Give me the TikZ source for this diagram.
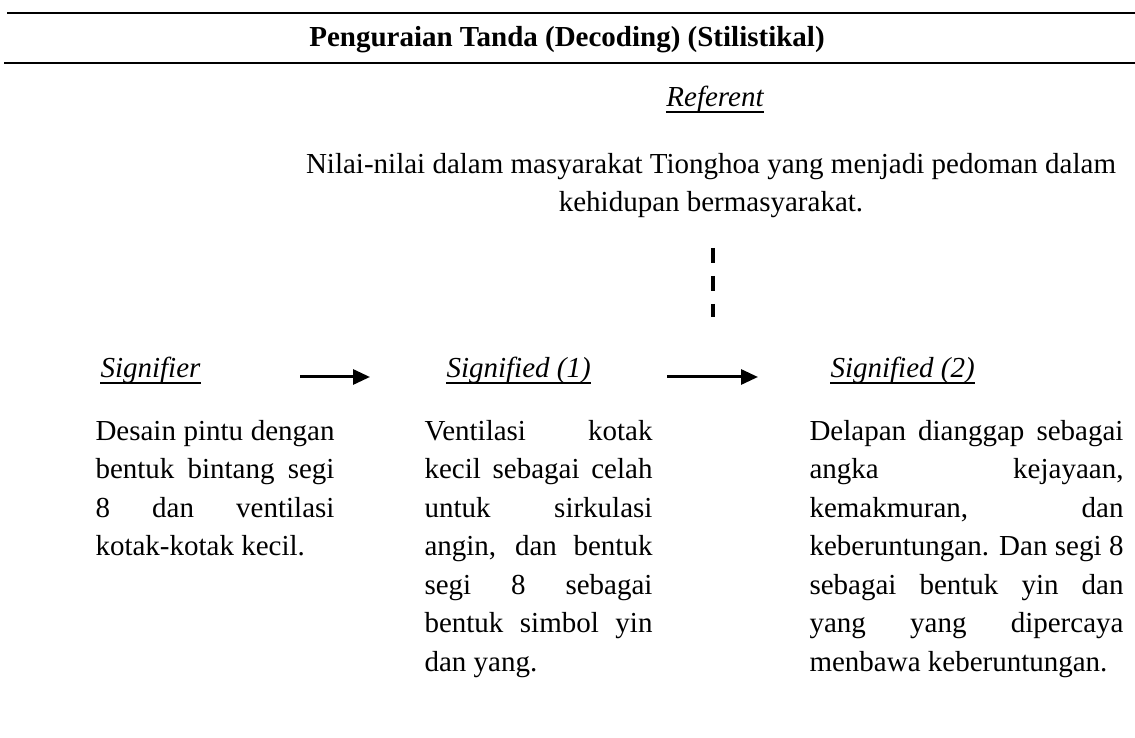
\documentclass[tikz,border=0pt]{standalone}
\usepackage{fontspec}
\setmainfont{Liberation Serif}
\usetikzlibrary{arrows.meta}
\tolerance=10000
\hbadness=10000
\hyphenpenalty=10000
\tikzset{
  >={Triangle[length=6.8pt,width=6pt]},
  txt/.style={inner sep=0pt,font=\fontsize{11.6}{15.4}\selectfont},
  head/.style={txt,font=\fontsize{11.6}{15.4}\selectfont\itshape,anchor=base west},
  para/.style={txt,text width=#1,align=justify,anchor=north west},
  flow/.style={->,line width=1.2pt},
  uline/.style={line width=0.6pt},
  rule/.style={line width=0.9pt},
  link/.style={line width=1.5pt,dash pattern=on 6pt off 5.2pt},
}
\begin{document}
\begin{tikzpicture}[x=0.4pt,y=-0.4pt]
  \useasboundingbox (0,0) rectangle (1135,738);
  % table head
  \draw[rule] (7,13) -- (1135,13);
  \node[txt,font=\fontsize{11.6}{15.4}\selectfont\bfseries,anchor=base] (title) at (567,47) {Penguraian Tanda (Decoding) (Stilistikal)};
  \draw[rule] (4,63) -- (1135,63);
  % referent
  \node[head,anchor=base] (ref) at (715,107) {Referent};
  \node[txt,align=center,anchor=north] (nilai) at (711,146)
    {\strut Nilai-nilai dalam masyarakat Tionghoa yang menjadi pedoman dalam\\ kehidupan bermasyarakat.};
  \coordinate (d1) at (713,248);
  \coordinate (d2) at (713,317);
  \draw[link] (d1) -- (d2);
  % signs
  \node[head] (sgr) at (100,378) {Signifier};
  \node[head] (sd1) at (446,378) {Signified (1)};
  \node[head] (sd2) at (830,378) {Signified (2)};
  \foreach \n in {ref,sgr,sd1,sd2}
    \draw[uline] ([yshift=-2pt]\n.base west) -- ([yshift=-2pt]\n.base east);
  \coordinate (a1) at (300,377);
  \coordinate (b1) at (370,377);
  \coordinate (a2) at (667,377);
  \coordinate (b2) at (758,377);
  \draw[flow] (a1) -- (b1);
  \draw[flow] (a2) -- (b2);
  % texts
  \node[para=95.6pt] (t1) at (95,413)
    {\strut Desain pintu dengan\linebreak bentuk bintang segi\linebreak 8 dan ventilasi\linebreak kotak-kotak kecil.};
  \node[para=91.2pt] (t2) at (424,413)
    {\strut Ventilasi kotak\linebreak kecil sebagai celah\linebreak untuk sirkulasi\linebreak angin, dan bentuk\linebreak segi 8 sebagai\linebreak bentuk simbol yin\linebreak dan yang.};
  \node[para=125.6pt] (t3) at (809,413)
    {\strut Delapan dianggap sebagai\linebreak angka kejayaan,\linebreak kemakmuran, dan\linebreak keberuntungan. Dan segi 8\linebreak sebagai bentuk yin dan\linebreak yang yang dipercaya\linebreak menbawa keberuntungan.};
\end{tikzpicture}
\end{document}
